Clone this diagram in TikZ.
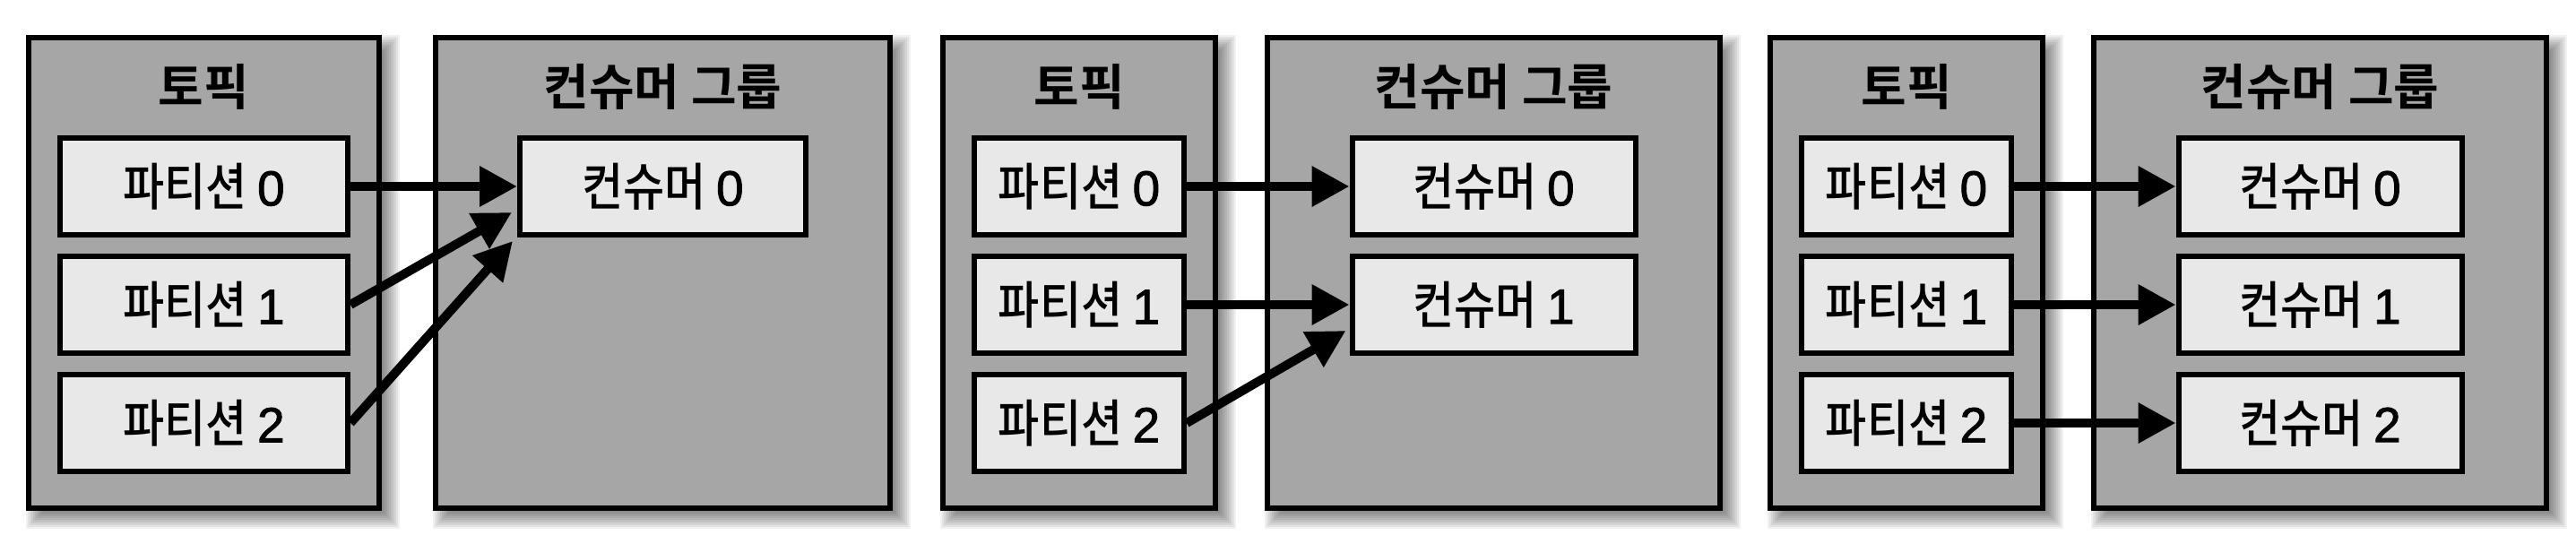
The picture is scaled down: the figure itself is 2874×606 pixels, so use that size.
\documentclass[tikz,border=0pt]{standalone}
\usepackage{fontspec}
\newfontfamily\krm{Noto Sans CJK KR Medium}[FakeStretch=0.88]
\newfontfamily\krb{Noto Sans CJK KR Bold}
\newfontfamily\digfont{Liberation Sans}[FakeBold=1.6]
\usetikzlibrary{arrows.meta,calc}
\pgfdeclarelayer{bg}
\pgfsetlayers{bg,main}
\definecolor{outerfill}{RGB}{166,166,166}
\definecolor{innerfill}{RGB}{232,232,232}
\newcommand\dg[1]{{\digfont\fontsize{55pt}{60pt}\selectfont #1}}
\tikzset{
  outerbox/.style={draw=black, line width=6pt, fill=outerfill, minimum height=525pt, inner sep=0pt},
  innerbox/.style={draw=black, line width=6pt, fill=innerfill, minimum height=108pt, inner sep=0pt,
    font=\krm\fontsize{57pt}{64pt}\selectfont},
  titletext/.style={font=\krb\fontsize{55pt}{62pt}\selectfont, inner sep=0pt},
  flow/.style={line width=10pt, -{Triangle[length=42pt,width=43pt]}},
}
\newcommand\myshadow[1]{%
  \foreach \e in {-10,-8,...,10}{%
    \fill[black,opacity=0.055] ($(#1.north west)+(10-\e,10-\e)$) rectangle ($(#1.south east)+(10+\e,10+\e)$);
  }}
\begin{document}
\begin{tikzpicture}[x=1pt,y=-1pt]
\useasboundingbox (0,0) rectangle (2874,606);
% ---------- panel 1
\node[outerbox, minimum width=391pt] (t1) at (227.5,304.5) {};
\node[outerbox, minimum width=507pt] (g1) at (739.5,304.5) {};
\node[titletext] (t1t) at (227.5,97) {토픽};
\node[titletext] (g1t) at (739.5,97) {컨슈머 그룹};
\node[innerbox, minimum width=321pt] (a0) at (227.5,208) {파티션 \dg{0}};
\node[innerbox, minimum width=321pt] (a1) at (227.5,340) {파티션 \dg{1}};
\node[innerbox, minimum width=321pt] (a2) at (227.5,472) {파티션 \dg{2}};
\node[innerbox, minimum width=319pt] (ac0) at (739.5,208) {컨슈머 \dg{0}};
% ---------- panel 2
\node[outerbox, minimum width=304pt] (t2) at (1204,304.5) {};
\node[outerbox, minimum width=505pt] (g2) at (1666.5,304.5) {};
\node[titletext] (t2t) at (1204,97) {토픽};
\node[titletext] (g2t) at (1666.5,97) {컨슈머 그룹};
\node[innerbox, minimum width=234pt] (b0) at (1204,208) {파티션 \dg{0}};
\node[innerbox, minimum width=234pt] (b1) at (1204,340) {파티션 \dg{1}};
\node[innerbox, minimum width=234pt] (b2) at (1204,472) {파티션 \dg{2}};
\node[innerbox, minimum width=316pt] (bc0) at (1666.5,208) {컨슈머 \dg{0}};
\node[innerbox, minimum width=316pt] (bc1) at (1666.5,340) {컨슈머 \dg{1}};
% ---------- panel 3
\node[outerbox, minimum width=304pt] (t3) at (2127,304.5) {};
\node[outerbox, minimum width=505pt] (g3) at (2588.5,304.5) {};
\node[titletext] (t3t) at (2127,97) {토픽};
\node[titletext] (g3t) at (2588.5,97) {컨슈머 그룹};
\node[innerbox, minimum width=234pt] (c0) at (2127,208) {파티션 \dg{0}};
\node[innerbox, minimum width=234pt] (c1) at (2127,340) {파티션 \dg{1}};
\node[innerbox, minimum width=234pt] (c2) at (2127,472) {파티션 \dg{2}};
\node[innerbox, minimum width=316pt] (cc0) at (2588.5,208) {컨슈머 \dg{0}};
\node[innerbox, minimum width=316pt] (cc1) at (2588.5,340) {컨슈머 \dg{1}};
\node[innerbox, minimum width=316pt] (cc2) at (2588.5,472) {컨슈머 \dg{2}};
% ---------- shadows and background
\begin{pgfonlayer}{bg}
  \fill[white] (0,0) rectangle (2874,606);
  \myshadow{t1}\myshadow{g1}\myshadow{t2}\myshadow{g2}\myshadow{t3}\myshadow{g3}
\end{pgfonlayer}
% ---------- connectors
\coordinate (ac0a) at ($(ac0.south west)+(-6,-28)$);
\coordinate (ac0b) at ($(ac0.south west)+(-5,4)$);
\draw[flow] (a0.east) -- (ac0.west);
\draw[flow] (a1.east) -- (ac0a);
\draw[flow] (a2.east) -- (ac0b);
\coordinate (bc1a) at ($(bc1.south west)+(-4,-28)$);
\draw[flow] (b0.east) -- (bc0.west);
\draw[flow] (b1.east) -- (bc1.west);
\draw[flow] (b2.east) -- (bc1a);
\draw[flow] (c0.east) -- (cc0.west);
\draw[flow] (c1.east) -- (cc1.west);
\draw[flow] (c2.east) -- (cc2.west);
\end{tikzpicture}
\end{document}
